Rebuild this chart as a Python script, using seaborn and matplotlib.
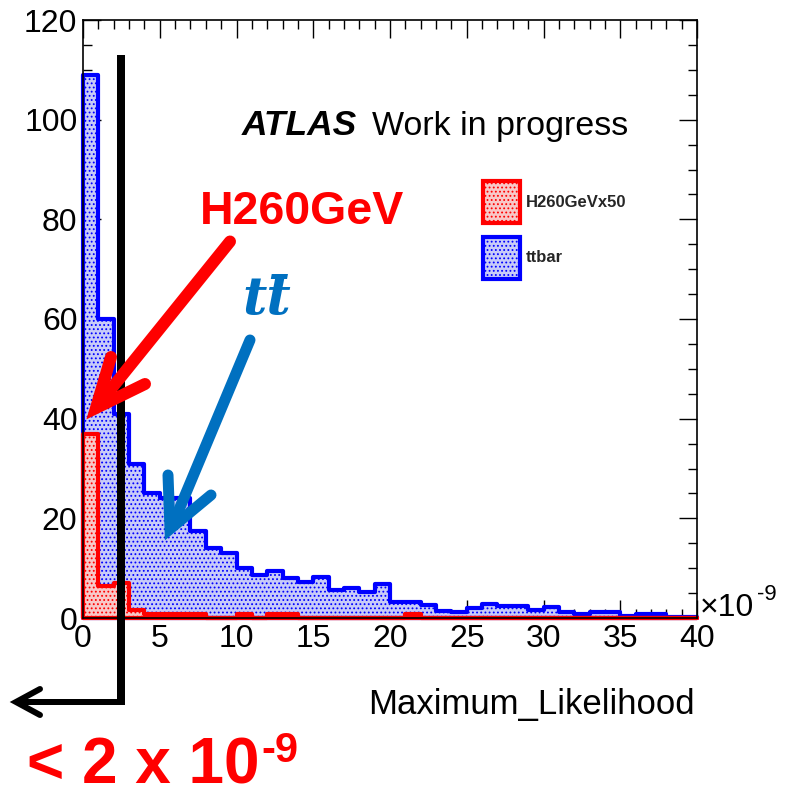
import numpy as np
import pandas as pd
import matplotlib
matplotlib.use("Agg")
import matplotlib.pyplot as plt
import seaborn as sns
from matplotlib.lines import Line2D
from matplotlib.patches import Patch
from matplotlib.ticker import MultipleLocator

# ---------------- data (x in units of 1e-9) ----------------
bin_edges = list(range(0, 41))
ttbar_counts = [109, 60, 41, 31, 25, 24, 24, 17.5, 14, 13,
                10, 8.6, 9.5, 8, 7.3, 8.3, 5.6, 6, 5.3, 6.8,
                3.3, 3.3, 2.6, 1.5, 1.2, 2, 2.8, 2.5, 2.5, 1.6,
                2.3, 1.3, 0.8, 1.2, 1.2, 0.5, 0.9, 0.9, 0.3, 0.3]
h260_counts = [37, 6.4, 7, 1.7, 0.9, 0.9, 0.9, 0.9, 0, 0,
               0.8, 0, 0.8, 0.8, 0, 0, 0, 0, 0, 0,
               0, 0.8, 0, 0, 0, 0, 0, 0, 0, 0,
               0, 0, 0, 0, 0, 0, 0, 0, 0, 0]
series_labels = ["H260GeVx50", "ttbar"]
x_ticks = [0, 5, 10, 15, 20, 25, 30, 35, 40]
y_ticks = [0, 20, 40, 60, 80, 100, 120]

sns.set_theme(style="ticks")
plt.rcParams["font.family"] = ["Liberation Sans", "DejaVu Sans"]
plt.rcParams["hatch.linewidth"] = 0.8

W, H = 790, 798
fig = plt.figure(figsize=(W / 100, H / 100), dpi=100)


def fx(x):
    return x / W


def fy(y):
    return 1 - y / H


ax = fig.add_axes([fx(83), fy(618), (697 - 83) / W, (618 - 20) / H])

centers = np.array(bin_edges[:-1]) + 0.5
df_tt = pd.DataFrame({"ml": centers, "w": ttbar_counts})
df_h = pd.DataFrame({"ml": centers, "w": h260_counts})

blue_face = "#c8cbf8"
red_face = "#f8c8c8"

sns.histplot(data=df_tt, x="ml", weights="w", bins=bin_edges, element="step",
             fill=True, facecolor=blue_face, edgecolor="#0000ff", linewidth=3,
             hatch="....", ax=ax)
ax.collections[-1].set_clip_on(False)
sns.histplot(data=df_h, x="ml", weights="w", bins=bin_edges, element="step",
             fill=True, facecolor=red_face, edgecolor="#ff0000", linewidth=3,
             hatch="....", ax=ax)
ax.collections[-1].set_clip_on(False)

ax.set_xlim(0, 40)
ax.set_ylim(0, 120)
ax.set_xticks(x_ticks)
ax.set_yticks(y_ticks)
ax.set_xticklabels([str(v) for v in x_ticks])
ax.set_yticklabels([str(v) for v in y_ticks])
ax.xaxis.set_minor_locator(MultipleLocator(1))
ax.yaxis.set_minor_locator(MultipleLocator(5))
ax.tick_params(which="both", direction="in", top=True, right=True,
               width=1, color="black", labelcolor="black")
ax.tick_params(which="major", length=13, labelsize=23, pad=4)
ax.tick_params(which="minor", length=6.5)
for sp in ax.spines.values():
    sp.set_color("black")
    sp.set_linewidth(1.2)
    sp.set_zorder(5)
ax.set_ylabel("")
ax.set_xlabel("Maximum_Likelihood", fontsize=25, color="black")
ax.xaxis.label.set_ha("right")
ax.xaxis.set_label_coords(0.9967, -0.117)

# legend
handles = [Patch(facecolor=red_face, edgecolor="#ff0000", hatch="....", linewidth=3),
           Patch(facecolor=blue_face, edgecolor="#0000ff", hatch="....", linewidth=3)]
ax.legend(handles, series_labels, loc="upper left",
          bbox_to_anchor=(fx(483), fy(181)), bbox_transform=fig.transFigure,
          frameon=False, borderpad=0, borderaxespad=0, handlelength=2.2,
          handleheight=3.48, handletextpad=0.35, labelspacing=0.84,
          prop={"weight": "bold", "size": 12})

# exponent label
fig.text(fx(700), fy(616), "\u00d710", fontsize=23, va="baseline", color="black")
fig.text(fx(757), fy(600), "-9", fontsize=16, va="baseline", color="black")

# ATLAS label
fig.text(fx(242), fy(135), "ATLAS", fontsize=25.5, weight="bold", style="italic",
         va="baseline", color="black")
fig.text(fx(372), fy(135), "Work in progress", fontsize=24.5, va="baseline",
         color="black")

# annotations
fig.text(fx(200), fy(224), "H260GeV", fontsize=33.5, weight="bold",
         color="#ff0000", va="baseline")
fig.text(fx(242), fy(314), "tt\u0304", fontsize=38, weight="bold", style="italic",
         family=["DejaVu Serif"], color="#0070c0", va="baseline")
fig.text(fx(27), fy(784), "< 2 x 10", fontsize=46, weight="bold",
         color="#ff0000", va="baseline")
fig.text(fx(261), fy(762), "-9", fontsize=30, weight="bold",
         color="#ff0000", va="baseline")


def pline(xs, ys, color, lw_px, cap="round", join="round"):
    ln = Line2D([fx(v) for v in xs], [fy(v) for v in ys], transform=fig.transFigure,
                color=color, linewidth=lw_px * 0.72, solid_capstyle=cap,
                solid_joinstyle=join)
    fig.add_artist(ln)


# black cut line with arrow
pline([120.5, 120.5], [55, 705], "black", 8, cap="butt")
pline([124, 18], [702, 702], "black", 6, cap="butt")
pline([40, 16, 40], [689, 702, 715], "black", 6, join="miter")

# red arrow
pline([230, 99], [241.5, 404], "#ff0000", 12)
pline([111, 96, 145], [357, 408, 384], "#ff0000", 12, join="miter")

# blue arrow
pline([250, 173], [340, 524], "#0070c0", 11)
pline([168, 170, 211], [475, 529, 495], "#0070c0", 11, join="miter")

fig.savefig("out.png", dpi=100)
